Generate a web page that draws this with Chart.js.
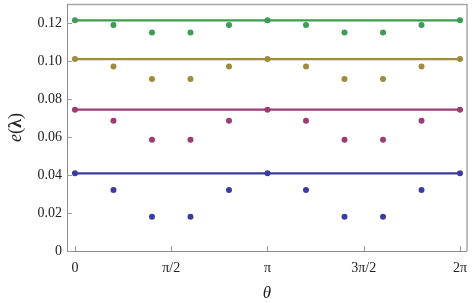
<!DOCTYPE html>
<html>
<head>
<meta charset="utf-8">
<script src="https://cdn.jsdelivr.net/npm/chart.js@4.4.1/dist/chart.umd.min.js"></script>
<style>
  html, body { margin: 0; padding: 0; background: #fff; }
  #wrap { width: 472px; height: 303px; }
</style>
</head>
<body>
<div id="wrap"><canvas id="energyChart" width="472" height="303"></canvas></div>
<script>
// theta samples: k * pi/5, k = 0..10
const thetaSteps = [0, 1, 2, 3, 4, 5, 6, 7, 8, 9, 10];
const greenVals   = [0.1214, 0.1190, 0.1150, 0.1150, 0.1190, 0.1214, 0.1190, 0.1150, 0.1150, 0.1190, 0.1214];
const oliveVals   = [0.1010, 0.0971, 0.0905, 0.0905, 0.0971, 0.1010, 0.0971, 0.0905, 0.0905, 0.0971, 0.1010];
const magentaVals = [0.0744, 0.0685, 0.0585, 0.0585, 0.0685, 0.0744, 0.0685, 0.0585, 0.0585, 0.0685, 0.0744];
const blueVals    = [0.0409, 0.0321, 0.0180, 0.0180, 0.0321, 0.0409, 0.0321, 0.0180, 0.0180, 0.0321, 0.0409];
const yTicks = [0, 0.02, 0.04, 0.06, 0.08, 0.10, 0.12];
const yTickLabels = ["0", "0.02", "0.04", "0.06", "0.08", "0.10", "0.12"];
const xTicks = [0, Math.PI / 2, Math.PI, 3 * Math.PI / 2, 2 * Math.PI];
const xTickLabels = ["0", "\u03c0/2", "\u03c0", "3\u03c0/2", "2\u03c0"];

const colors = {
    green: "#3c9c54",
    olive: "#9e8c3c",
    magenta: "#9c3c74",
    blue: "#3c3ca0"
};

function pts(vals) {
    return vals.map((v, i) => ({ x: thetaSteps[i] * Math.PI / 5, y: v }));
}

function maxLine(vals) {
    const m = Math.max(...vals);
    return [{ x: 0, y: m }, { x: 2 * Math.PI, y: m }];
}

const series = [
    ["green", greenVals],
    ["olive", oliveVals],
    ["magenta", magentaVals],
    ["blue", blueVals]
];

const datasets = [];
series.forEach(([name, vals]) => {
    datasets.push({
        data: maxLine(vals),
        showLine: true,
        borderColor: colors[name],
        borderWidth: 2.2,
        pointRadius: 0,
        order: 2
    });
    datasets.push({
        data: pts(vals),
        showLine: false,
        backgroundColor: colors[name],
        borderColor: colors[name],
        borderWidth: 0,
        pointRadius: 3,
        order: 1
    });
});

// frame, inward ticks and axis titles
const framePlugin = {
    id: "frame",
    afterDraw(chart) {
        const { ctx, chartArea: a, scales } = chart;
        ctx.save();
        // top + right lighter
        ctx.strokeStyle = "#a8a8a8";
        ctx.lineWidth = 1.5;
        ctx.beginPath();
        ctx.moveTo(a.left, a.top + 0.5);
        ctx.lineTo(a.right, a.top + 0.5);
        ctx.lineTo(a.right, a.bottom);
        ctx.stroke();
        // left + bottom
        ctx.strokeStyle = "#8c8c8c";
        ctx.lineWidth = 1;
        ctx.beginPath();
        ctx.moveTo(a.left + 0.5, a.top);
        ctx.lineTo(a.left + 0.5, a.bottom + 0.5);
        ctx.lineTo(a.right, a.bottom + 0.5);
        ctx.stroke();
        // ticks
        ctx.strokeStyle = "#9a9a9a";
        ctx.beginPath();
        yTicks.forEach(v => {
            const y = Math.round(scales.y.getPixelForValue(v)) + 0.5;
            ctx.moveTo(a.left, y);
            ctx.lineTo(a.left + 5, y);
        });
        xTicks.forEach(v => {
            const x = Math.round(scales.x.getPixelForValue(v)) + 0.5;
            ctx.moveTo(x, a.bottom);
            ctx.lineTo(x, a.bottom - 5);
        });
        ctx.stroke();

        // x title
        ctx.fillStyle = "#222";
        ctx.font = "italic 17px 'Liberation Serif'";
        ctx.textAlign = "center";
        ctx.textBaseline = "middle";
        ctx.fillText("\u03b8", (a.left + a.right) / 2, 294);

        // y title: e(λ) rotated
        ctx.translate(16, (a.top + a.bottom) / 2);
        ctx.rotate(-Math.PI / 2);
        const parts = [
            ["italic 18px 'Liberation Serif'", "e"],
            ["18px 'Liberation Serif'", "("],
            ["bold 18px 'Liberation Serif'", "\u03bb"],
            ["18px 'Liberation Serif'", ")"]
        ];
        let total = 0;
        parts.forEach(([f, t]) => { ctx.font = f; total += ctx.measureText(t).width; });
        let x = -total / 2;
        ctx.textAlign = "left";
        parts.forEach(([f, t]) => {
            ctx.font = f;
            ctx.fillText(t, x, 0);
            x += ctx.measureText(t).width;
        });
        ctx.restore();
    }
};

new Chart(document.getElementById("energyChart"), {
    type: "scatter",
    data: { datasets },
    options: {
        responsive: false,
        animation: false,
        layout: { padding: { top: 3, right: 5, left: 0, bottom: 0 } },
        plugins: { legend: { display: false }, tooltip: { enabled: false } },
        scales: {
            x: {
                type: "linear",
                min: -0.13,
                max: 2 * Math.PI + 0.114,
                grid: { display: false, drawTicks: false },
                border: { display: false },
                afterBuildTicks: s => { s.ticks = xTicks.map(v => ({ value: v })); },
                afterFit: s => { s.height = 52; s.paddingLeft = 0; s.paddingRight = 0; },
                ticks: {
                    padding: 9,
                    color: "#222",
                    font: { family: "'Liberation Serif'", size: 14 },
                    callback: (v, i) => xTickLabels[i]
                }
            },
            y: {
                min: 0,
                max: 0.13,
                grid: { display: false, drawTicks: false },
                border: { display: false },
                afterBuildTicks: s => { s.ticks = yTicks.map(v => ({ value: v })); },
                afterFit: s => { s.width = 67; s.paddingTop = 0; s.paddingBottom = 0; },
                ticks: {
                    padding: 5,
                    color: "#222",
                    font: { family: "'Liberation Serif'", size: 14 },
                    callback: (v, i) => yTickLabels[i]
                }
            }
        }
    },
    plugins: [framePlugin]
});
</script>
</body>
</html>
